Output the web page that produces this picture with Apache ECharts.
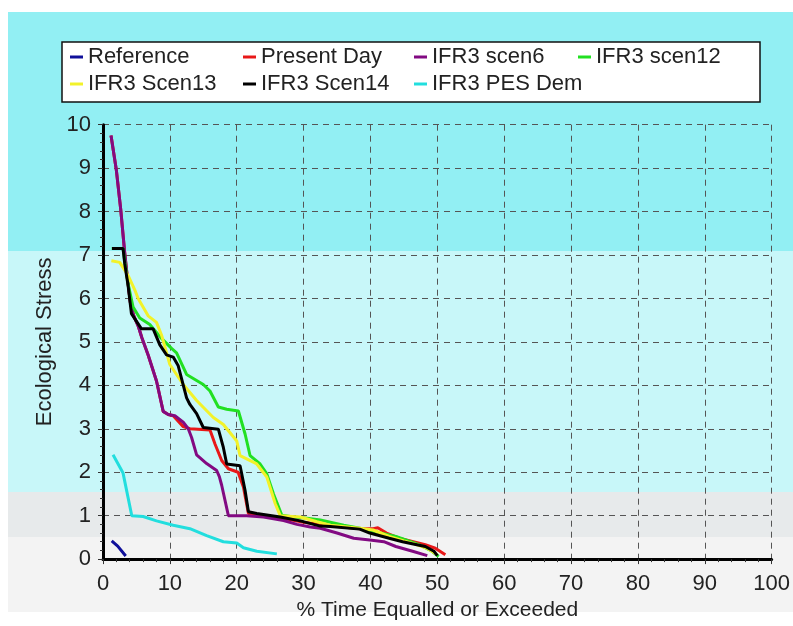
<!DOCTYPE html>
<html>
<head>
<meta charset="utf-8">
<script src="https://cdn.jsdelivr.net/npm/echarts@6/dist/echarts.min.js"></script>
<style>
html,body{margin:0;padding:0;background:#fff;}
#c{width:793px;height:626px;}
</style>
</head>
<body>
<div id="c"></div>
<script>
// ---- data ----
const seriesNames = ['Reference','Present Day','IFR3 scen6','IFR3 scen12','IFR3 Scen13','IFR3 Scen14','IFR3 PES Dem'];
const seriesColors = ['#10109a','#e81818','#820a82','#22e022','#f2f22a','#000000','#22dede'];
const xTicks = [0,10,20,30,40,50,60,70,80,90,100];
const yTicks = [0,1,2,3,4,5,6,7,8,9,10];

const reference = [[1.3,0.42],[2.2,0.3],[3.4,0.07]];
const presentDay = [[1.2,9.75],[2.0,8.95],[2.65,8.05],[3.25,7.05],[3.7,6.4],[4.1,5.9],[4.6,5.6],[5.3,5.35],[5.8,5.1],[6.75,4.7],[8.0,4.1],[9.0,3.4],[9.75,3.33],[10.5,3.3],[12,3.05],[13,3.0],[16,2.97],[16.75,2.65],[17.75,2.27],[18.75,2.08],[20.2,2.0],[21,1.66],[21.75,1.05],[23,1.02],[26.5,0.95],[30,0.85],[34,0.77],[38.4,0.7],[40.4,0.7],[41.1,0.72],[42.4,0.6],[44.3,0.48],[48.2,0.33],[49.7,0.25],[51.2,0.1]];
const scen6 = [[1.2,9.75],[2.0,8.95],[2.65,8.05],[3.25,7.05],[3.7,6.4],[4.1,5.9],[4.6,5.6],[5.3,5.35],[5.8,5.1],[6.75,4.7],[8.0,4.1],[9.0,3.4],[9.75,3.33],[10.75,3.3],[12.0,3.15],[12.75,3.0],[13.25,2.8],[14.0,2.4],[15.5,2.2],[17,2.04],[17.4,1.9],[17.75,1.7],[18.75,1.0],[21.5,1.0],[24,0.97],[27,0.89],[29,0.8],[31,0.74],[32.5,0.71],[35,0.6],[37.5,0.48],[39.9,0.44],[42,0.4],[43.8,0.29],[46.3,0.18],[48.5,0.08]];
const scen12 = [[1.3,7.15],[3.0,7.15],[3.3,6.8],[3.8,6.3],[4.5,5.8],[5.5,5.55],[7.0,5.4],[8.75,5.08],[10.25,4.85],[11,4.75],[12.5,4.25],[15,4.02],[16,3.87],[17.25,3.5],[18.5,3.45],[20.25,3.41],[21.25,2.88],[22,2.38],[23.5,2.19],[24.5,1.96],[25.5,1.5],[26.75,1.01],[28.5,0.97],[30.5,0.94],[32.5,0.9],[36,0.78],[38.4,0.71],[43.8,0.52],[47.3,0.33],[49.2,0.18],[50.2,0.06]];
const scen13 = [[1.25,6.87],[2.5,6.83],[3.75,6.53],[4.75,6.2],[5.25,6.0],[6.75,5.6],[8.0,5.45],[8.75,5.16],[10,4.48],[12,4.02],[14,3.65],[16.5,3.26],[18,3.1],[20,2.72],[20.5,2.38],[23,2.19],[24.5,1.89],[25.75,1.28],[26.5,1.0],[29.5,0.97],[32,0.86],[34,0.78],[38.4,0.71],[40.4,0.67],[42.8,0.52],[45,0.42],[47,0.33],[48.5,0.25],[50,0.1]];
const scen14 = [[1.35,7.15],[3.0,7.15],[3.25,6.8],[3.75,6.3],[4.25,5.65],[5.75,5.3],[7.5,5.3],[8.5,4.93],[9.5,4.7],[10.5,4.65],[11.25,4.45],[12.5,3.71],[13,3.56],[14,3.35],[15,3.03],[17.25,2.99],[18,2.57],[18.5,2.19],[20.5,2.15],[21.25,1.58],[21.75,1.09],[23,1.05],[26.5,0.97],[29.5,0.88],[32.5,0.76],[34,0.75],[38.4,0.69],[39.9,0.6],[42.8,0.48],[44.8,0.4],[48.2,0.29],[49.5,0.18],[50,0.08]];
const pesDem = [[1.5,2.4],[3.0,1.98],[4.3,1.0],[6,0.98],[8,0.88],[10.5,0.78],[13,0.70],[15.5,0.54],[18,0.40],[20,0.37],[21,0.26],[23,0.18],[26,0.12]];

const seriesData = [reference, presentDay, scen6, scen12, scen13, scen14, pesDem];

// ---- chart ----
const FONT = "'Liberation Sans', Arial, sans-serif";
const chart = echarts.init(document.getElementById('c'), null, {renderer:'canvas'});

const legendCols = [[0,4],[1,5],[2,6],[3]];
const legendLeft = [70,243,414,578];

const option = {
  animation:false,
  backgroundColor:'#ffffff',
  graphic:[
    {type:'rect', z:-10, silent:true, shape:{x:8,y:12,width:785,height:600},
     style:{fill:new echarts.graphic.LinearGradient(0,0,0,1,[
       {offset:0,color:'#92eff3'},{offset:0.398,color:'#92eff3'},
       {offset:0.398,color:'#c8f7f9'},{offset:0.8,color:'#c8f7f9'},
       {offset:0.8,color:'#e7eaeb'},{offset:0.875,color:'#e7eaeb'},
       {offset:0.875,color:'#f3f3f3'},{offset:1,color:'#f3f3f3'}])}},
    {type:'rect', z:1, silent:true, shape:{x:62,y:42,width:698,height:60},
     style:{fill:'#ffffff',stroke:'#111',lineWidth:1.5}}
  ],
  legend: legendCols.map((col,i)=>({
    orient:'vertical', left:legendLeft[i], top:46, padding:0, itemGap:5,
    itemWidth:13, itemHeight:3, icon:'rect',
    data:col.map(k=>seriesNames[k]),
    textStyle:{fontFamily:FONT,fontSize:22,color:'#222'}
  })),
  grid:{left:103,right:21,top:124.7,bottom:63.3,containLabel:false},
  xAxis:{
    type:'value', min:0, max:100, interval:10,
    name:'% Time Equalled or Exceeded', nameLocation:'middle', nameGap:38,
    nameTextStyle:{fontFamily:FONT,fontSize:21,color:'#222'},
    axisLine:{show:true,onZero:false,lineStyle:{color:'#000',width:3}},
    axisTick:{show:true,length:5,lineStyle:{color:'#333',width:1}},
    minorTick:{show:true,splitNumber:5,length:3,lineStyle:{color:'#333'}},
    axisLabel:{fontFamily:FONT,fontSize:22,color:'#222',margin:14,
      formatter:v=>xTicks.includes(v)?String(v):''},
    splitLine:{show:true,lineStyle:{color:'#555',type:[6,5],width:1}}
  },
  yAxis:{
    type:'value', min:0, max:10, interval:1,
    name:'Ecological Stress', nameLocation:'middle', nameGap:47,
    nameTextStyle:{fontFamily:FONT,fontSize:22,color:'#222'},
    axisLine:{show:true,onZero:false,lineStyle:{color:'#000',width:3}},
    axisTick:{show:true,length:5,lineStyle:{color:'#333',width:1}},
    minorTick:{show:true,splitNumber:5,length:3,lineStyle:{color:'#333'}},
    axisLabel:{fontFamily:FONT,fontSize:22,color:'#222',margin:12,
      formatter:v=>yTicks.includes(v)?String(v):''},
    splitLine:{show:true,lineStyle:{color:'#555',type:[6,5],width:1}}
  },
  series: seriesNames.map((n,i)=>({
    name:n, type:'line', data:seriesData[i], showSymbol:false, symbol:'none',
    color:seriesColors[i], lineStyle:{width:3,color:seriesColors[i]},
    clip:true
  }))
};
chart.setOption(option);
</script>
</body>
</html>
